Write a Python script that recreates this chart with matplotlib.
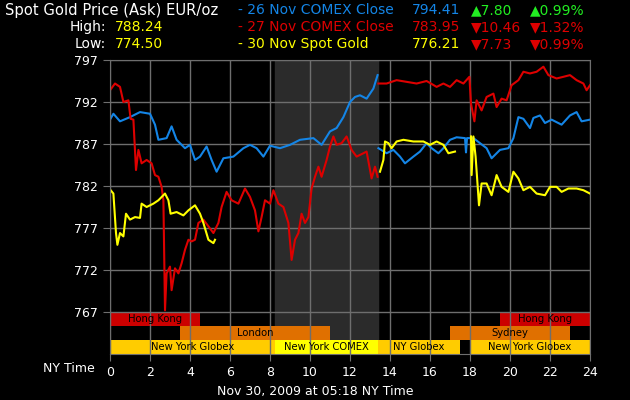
import numpy as np
import matplotlib.pyplot as plt

# hours (NY time) and prices; NaN marks a break in the line
blue_h = [0, 0.17, 0.5, 1.0, 1.5, 2.0, 2.25, 2.42, 2.83, 3.08, 3.33, 3.75, 4.0, 4.25, 4.5,
          4.83, 5.08, 5.33, 5.67, 6.17, 6.67, 7.0, 7.33, 7.67, 8.0, 8.5, 9.0, 9.5, 10.17,
          10.58, 11.0, 11.33, 11.67, 12.0, 12.25, 12.5, 12.83, 13.17, 13.38, 13.4,
          13.42, 13.83, 14.17, 14.5, 14.75, 15.17, 15.5, 15.83, 16.08, 16.42, 16.67, 17.0,
          17.33, 17.75, 17.8, 17.85, 18.17, 18.5, 18.83, 19.08, 19.5, 19.92, 20.17, 20.42,
          20.67, 21.0, 21.17, 21.5, 21.75, 22.08, 22.58, 23.0, 23.33, 23.58, 24.0]
blue_v = [789.9, 790.6, 789.7, 790.2, 790.8, 790.6, 789.3, 787.5, 787.7, 789.1, 787.5, 786.5,
          786.9, 785.1, 785.5, 786.7, 785.1, 783.7, 785.3, 785.5, 786.5, 786.9, 786.5, 785.5,
          786.8, 786.5, 786.9, 787.5, 787.7, 786.9, 788.5, 788.9, 790.2, 792.0, 792.6, 792.8,
          792.4, 793.6, 795.2, np.nan,
          786.5, 785.9, 786.3, 785.5, 784.7, 785.5, 786.1, 787.1, 786.5, 785.9, 786.5, 787.5,
          787.8, 787.7, 786.0, 787.7, 787.7, 787.1, 786.5, 785.3, 786.3, 786.5, 787.7, 790.2,
          790.0, 788.9, 790.1, 790.4, 789.5, 789.9, 789.3, 790.4, 790.8, 789.7, 789.9]

red_h = [0, 0.25, 0.5, 0.67, 0.92, 1.03, 1.17, 1.3, 1.42, 1.58, 1.83, 2.08, 2.25, 2.42, 2.58,
         2.67, 2.75, 2.83, 3.0, 3.08, 3.25, 3.42, 3.58, 3.75, 3.92, 4.08, 4.25, 4.42, 4.67,
         4.92, 5.17, 5.42, 5.58, 5.83, 6.08, 6.42, 6.75, 7.0, 7.25, 7.42, 7.58, 7.75, 8.0,
         8.17, 8.42, 8.67, 8.92, 9.08, 9.25, 9.42, 9.58, 9.75, 9.92, 10.08, 10.25, 10.42,
         10.58, 10.83, 11.0, 11.17, 11.33, 11.58, 11.83, 12.08, 12.33, 12.67, 12.83, 13.08,
         13.25, 13.38, 13.4,
         13.42, 13.83, 14.33, 14.83, 15.33, 15.83, 16.33, 16.67, 17.0, 17.33, 17.67, 17.97,
         18.05, 18.22, 18.33, 18.58, 18.83, 19.17, 19.33, 19.58, 19.83, 20.08, 20.42, 20.67,
         21.0, 21.33, 21.67, 21.92, 22.33, 22.67, 23.0, 23.33, 23.67, 23.83, 24.0]
red_v = [793.4, 794.2, 793.8, 792.0, 792.2, 790.0, 789.9, 783.9, 786.3, 784.7, 785.1, 784.7,
         783.3, 783.1, 781.9, 780.3, 767.2, 771.6, 772.4, 769.6, 772.2, 771.6, 772.8, 774.4,
         775.6, 775.4, 775.6, 777.6, 778.0, 777.2, 776.4, 777.6, 779.5, 781.3, 780.3, 779.9,
         781.7, 780.7, 779.1, 776.6, 778.3, 780.3, 779.9, 781.5, 779.9, 779.5, 777.6, 773.2,
         775.6, 776.4, 778.7, 777.6, 778.3, 781.7, 783.1, 784.3, 783.1, 785.1, 786.7, 787.9,
         786.9, 787.1, 787.9, 786.3, 785.5, 785.9, 786.1, 782.9, 784.3, 783.1, np.nan,
         794.2, 794.2, 794.6, 794.4, 794.2, 794.5, 793.8, 794.2, 793.8, 794.6, 794.2, 795.0,
         791.8, 789.7, 792.2, 791.0, 792.6, 793.0, 791.4, 792.4, 792.2, 794.0, 794.6, 795.6,
         795.4, 795.6, 796.2, 795.2, 794.8, 795.0, 795.2, 794.6, 794.2, 793.4, 794.0]

yellow_h = [0.03, 0.17, 0.3, 0.37, 0.5, 0.67, 0.8, 1.0, 1.25, 1.5, 1.58, 1.83, 2.17, 2.42,
            2.75, 2.92, 3.03, 3.33, 3.67, 3.92, 4.25, 4.5, 4.67, 4.92, 5.17, 5.25, 5.3,
            13.5, 13.67, 13.75, 13.92, 14.08, 14.33, 14.67, 15.17, 15.67, 16.0, 16.33,
            16.67, 16.92, 17.25, 17.3,
            18.05, 18.08, 18.17, 18.28, 18.45, 18.58, 18.83, 19.08, 19.33, 19.58, 19.92,
            20.17, 20.42, 20.67, 21.0, 21.33, 21.75, 22.0, 22.33, 22.58, 22.92, 23.33,
            23.67, 24.0]
yellow_v = [781.5, 781.1, 776.4, 775.0, 776.4, 776.0, 778.7, 778.0, 778.3, 778.2, 779.9,
            779.5, 779.9, 780.3, 781.1, 780.3, 778.7, 778.9, 778.5, 779.1, 779.7, 778.7,
            777.6, 775.6, 775.2, 775.6, np.nan,
            783.7, 785.1, 787.3, 787.1, 786.5, 787.3, 787.5, 787.3, 787.3, 786.9, 787.3,
            786.9, 785.9, 786.1, np.nan,
            787.9, 783.3, 787.9, 785.5, 779.7, 782.3, 782.3, 780.9, 783.3, 781.9, 781.3,
            783.7, 782.9, 781.5, 781.9, 781.1, 780.9, 781.9, 781.9, 781.3, 781.7, 781.7,
            781.5, 781.1]

# trading sessions: (row, start, end, label, colour)
sessions = [
    (0, 0, 4.5, 'Hong Kong', '#cc0000'),
    (0, 19.5, 24, 'Hong Kong', '#cc0000'),
    (1, 3.5, 11, 'London', '#e07000'),
    (1, 17, 23, 'Sydney', '#e07000'),
    (2, 0, 8.25, 'New York Globex', '#ffcc00'),
    (2, 8.25, 13.4, 'New York COMEX', '#ffff00'),
    (2, 13.4, 17.5, 'NY Globex', '#ffcc00'),
    (2, 18, 24, 'New York Globex', '#ffcc00'),
]

blue = '#1485e6'
red = '#dd0000'
yellow = '#ffff00'
grid = '#6e6e6e'

fig = plt.figure(figsize=(6.3, 4), dpi=100, facecolor='black')
ax = fig.add_axes([110/630, 46/400, 480/630, 294/400])
ax.set_facecolor('black')

# COMEX hours
ax.axvspan(8.25, 13.4, color='#2b2b2b', zorder=0.5)

row_h = 5/3
for row, s, e, lab, col in sessions:
    yc = 767 - row_h*(row + 0.5)
    ax.barh(yc, e - s, left=s, height=row_h, color=col, zorder=1)
    ax.text((s + e)/2, yc, lab, ha='center', va='center', fontsize=7.2, color='black', zorder=3)

ax.plot(blue_h, blue_v, color=blue, lw=1.5, zorder=2)
ax.plot(red_h, red_v, color=red, lw=1.5, zorder=2.1)
ax.plot(yellow_h, yellow_v, color=yellow, lw=1.5, zorder=2.2)

ax.set_xlim(0, 24)
ax.set_ylim(762, 797)
ax.set_xticks(range(0, 25, 2))
ax.set_yticks(range(767, 798, 5))
ax.set_axisbelow('line')
ax.grid(color=grid, lw=1)
for sp in ax.spines.values():
    sp.set_color(grid)
ax.tick_params(colors=grid, labelcolor='white', labelsize=9, length=5)

fig.text(95/630, 1 - 368/400, 'NY Time', color='white', fontsize=9, ha='right', va='center')
fig.text(0.5, 1 - 392/400, 'Nov 30, 2009 at 05:18 NY Time', color='white', fontsize=9,
         ha='center', va='center')

# header
hs = 10
def head(x, y, s, c, size=hs):
    fig.text(x/630, 1 - y/400, s, color=c, fontsize=size, ha='left', va='center')

head(5, 10, 'Spot Gold Price (Ask) EUR/oz', 'white', 10.6)
fig.text(106/630, 1 - 27/400, 'High:', color='white', fontsize=hs, ha='right', va='center')
fig.text(106/630, 1 - 44/400, 'Low:', color='white', fontsize=hs, ha='right', va='center')
head(115, 27, '788.24', yellow)
head(115, 44, '774.50', yellow)

rows = [
    (10, '- 26 Nov COMEX Close', blue, '794.41', '\u25b27.80', '\u25b20.99%', '#22ee22'),
    (27, '- 27 Nov COMEX Close', red, '783.95', '\u25bc10.46', '\u25bc1.32%', red),
    (44, '- 30 Nov Spot Gold', yellow, '776.21', '\u25bc7.73', '\u25bc0.99%', red),
]
for y, name, c, price, chg, pct, cc in rows:
    head(238, y, name, c)
    head(412, y, price, c)
    head(471, y, chg, cc)
    head(530, y, pct, cc)

fig.savefig('out.png', dpi=100, facecolor='black')
